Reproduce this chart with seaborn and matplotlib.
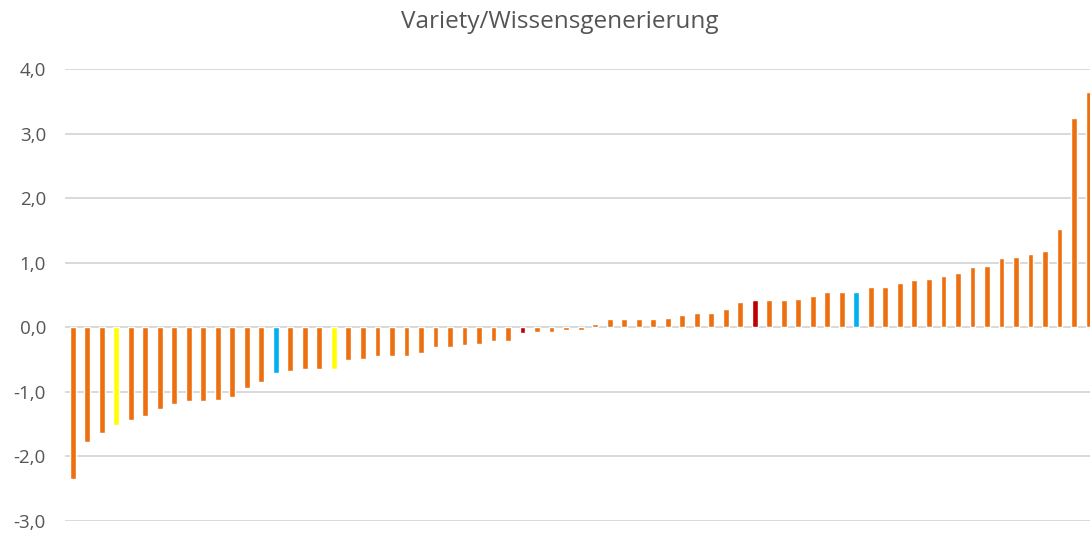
import matplotlib
matplotlib.use("Agg")
import matplotlib.pyplot as plt
import seaborn as sns
import pandas as pd
from matplotlib.ticker import FixedLocator, FuncFormatter

# Sorted scores per unit, with a colour group for each bar
values = [
    -2.35, -1.78, -1.64, -1.52, -1.43, -1.38, -1.27, -1.18, -1.14, -1.14,
    -1.12, -1.08, -0.94, -0.84, -0.70, -0.68, -0.64, -0.64, -0.64, -0.51,
    -0.49, -0.44, -0.44, -0.44, -0.39, -0.30, -0.30, -0.28, -0.25, -0.21,
    -0.21, -0.08, -0.07, -0.07, -0.04, -0.04, 0.05, 0.13, 0.13, 0.13,
    0.13, 0.15, 0.19, 0.23, 0.23, 0.28, 0.39, 0.43, 0.43, 0.43,
    0.44, 0.48, 0.55, 0.55, 0.55, 0.63, 0.63, 0.69, 0.73, 0.75,
    0.79, 0.85, 0.93, 0.95, 1.07, 1.09, 1.13, 1.19, 1.53, 3.25,
    3.65,
]
groups = ["base"] * len(values)
for i in (3, 18):
    groups[i] = "yellow"
for i in (14, 54):
    groups[i] = "blue"
for i in (31, 47):
    groups[i] = "red"

group_colors = {
    "base": "#EE6F0F",
    "yellow": "#FFFF00",
    "blue": "#00B0F0",
    "red": "#C00000",
}
title = "Variety/Wissensgenerierung"
y_ticks = [-3, -2, -1, 0, 1, 2, 3, 4]

df = pd.DataFrame({
    "pos": list(range(len(values))),
    "value": values,
    "group": groups,
})

sns.set_style("white")
plt.rcParams["font.family"] = ["Open Sans", "DejaVu Sans"]

W, H = 1090, 535
fig = plt.figure(figsize=(W / 100, H / 100), dpi=100)

left_px, right_px = 65.4, 1090.0
top_px, bottom_px = 69.3, 521.0
ax = fig.add_axes([left_px / W, 1 - bottom_px / H,
                   (right_px - left_px) / W, (bottom_px - top_px) / H])

palette = [group_colors[g] for g in groups]
sns.barplot(data=df, x="pos", y="value", hue="pos", palette=palette,
            legend=False, width=0.4, saturation=1, ax=ax, zorder=3)

ax.set_xlim(-0.5, 70.1)
ax.set_ylim(-3, 4)
ax.yaxis.set_major_locator(FixedLocator(y_ticks))
ax.yaxis.set_major_formatter(FuncFormatter(lambda v, p: f"{v:.1f}".replace(".", ",")))
ax.set_xticks([])
ax.set_xlabel("")
ax.set_ylabel("")
ax.grid(axis="y", color="#D9D9D9", linewidth=1.4, zorder=0)
ax.set_axisbelow(True)
for s in ax.spines.values():
    s.set_visible(False)
ax.tick_params(axis="y", length=0, pad=14, labelsize=13.5, labelcolor="#555555")

fig.text(560 / W, 1 - 28.5 / H, title, ha="center", va="baseline",
         fontsize=17.5, color="#555555")

fig.savefig("out.png", dpi=100)
